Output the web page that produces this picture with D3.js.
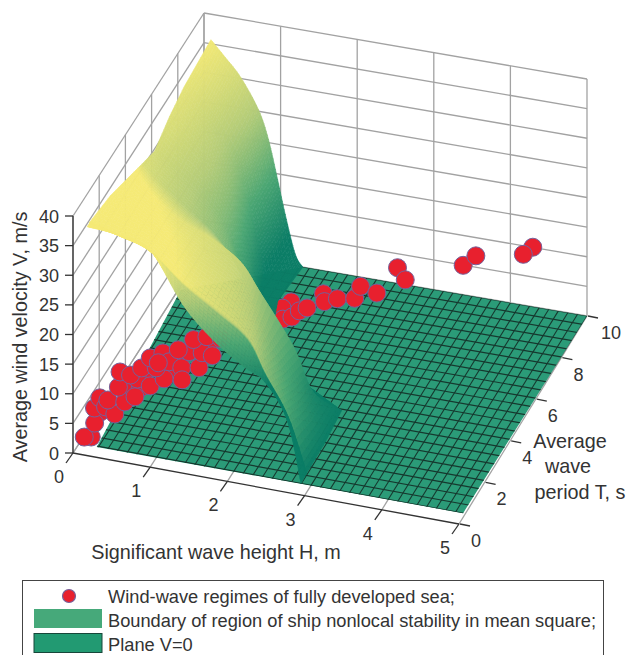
<!DOCTYPE html>
<html>
<head>
<meta charset="utf-8">
<script src="https://cdn.jsdelivr.net/npm/d3@7"></script>
<style>
  html, body { margin: 0; padding: 0; background: #fff; overflow: hidden; }
  text { font-family: "Liberation Sans", Arial, sans-serif; fill: #333; }
</style>
</head>
<body>
<div class="container"></div>
<script>
// tick labels
const hTicks = [0, 1, 2, 3, 4, 5];
const tTicks = [0, 2, 4, 6, 8, 10];
const vTicks = [0, 5, 10, 15, 20, 25, 30, 35, 40];

// wind-wave regimes (H m, T s, V m/s)
const regimeH = [0.40, 0.54, 0.88, 0.81, 0.56, 1.17, 0.19, 0.18, 0.10, 0.16, 0.09, 0.12, 0.21, 0.37, 0.23, 0.44, 0.52, 0.30, 0.25, 0.46, 0.35, 0.47, 0.66, 0.77, 0.64, 0.54, 0.65, 0.79, 0.67, 0.98, 1.03, 1.18, 0.99, 1.15, 1.29, 0.85, 0.95, 1.13, 1.31,
  1.90, 1.84, 1.93, 2.02, 2.06, 2.13, 2.26, 2.33, 2.46, 2.66, 2.64, 2.88, 2.98, 3.16, 3.82, 3.90, 4.55, 4.49];
const regimeT = [1.88, 2.33, 2.37, 3.01, 1.84, 3.46, 0.99, 0.33, 0.27, 0.71, 1.11, 1.34, 1.25, 1.01, 1.31, 1.36, 1.67, 1.70, 2.12, 2.21, 2.33, 2.47, 2.01, 2.43, 2.59, 2.72, 3.04, 2.70, 2.57, 2.54, 2.27, 2.68, 3.04, 3.10, 3.05, 3.04, 3.61, 3.58, 3.61,
  5.51, 5.17, 4.69, 4.85, 5.18, 5.37, 5.86, 5.52, 5.75, 5.90, 6.47, 6.30, 7.31, 6.84, 7.40, 7.91, 8.46, 8.08];
const regimeV = [6, 7, 8, 8, 6, 9, 4, 2, 2, 3, 4, 5, 4, 4, 5, 5, 5, 6, 7, 6, 6, 7, 6, 6, 7, 8, 8, 8, 8, 8, 7, 8, 9, 9, 9, 9, 9, 10, 10,
  11, 11, 11, 11, 11, 11, 12, 12, 12, 12, 12, 12, 13, 13, 15, 15, 16, 16];

// boundary surface, one row per wave period, far row first
const surfT = [10, 8.3, 7.2, 6, 5, 4, 2.5, 1, 0.9, 0.5];
const surfH = [
  [0.09, 0.28, 0.48, 0.71, 0.84, 0.96, 1.06, 1.19, 1.29],
  [0.03, 0.25, 0.45, 0.68, 0.82, 0.94, 1.04, 1.16, 1.25],
  [0.03, 0.30, 0.55, 0.80, 0.95, 1.08, 1.18, 1.29, 1.38],
  [0.04, 0.30, 0.60, 0.90, 1.10, 1.25, 1.40, 1.55, 1.70],
  [0.05, 0.30, 0.65, 1.00, 1.30, 1.50, 1.70, 1.90, 2.10],
  [0.08, 0.23, 0.71, 1.10, 1.49, 1.75, 2.18, 2.44, 2.81],
  [0.06, 0.35, 0.77, 1.18, 1.60, 1.92, 2.25, 2.55, 2.85],
  [0.05, 0.44, 0.83, 1.26, 1.70, 2.09, 2.32, 2.62, 2.86],
  [0.06, 0.45, 0.84, 1.27, 1.71, 2.10, 2.33, 2.63, 2.86],
  [0.10, 0.52, 0.91, 1.34, 1.73, 2.12, 2.40, 2.69, 2.87]
];
const surfV = [
  [35.7, 33.1, 30.2, 25.3, 20.6, 14.1, 8.4, 2.0, 0],
  [33.4, 30.5, 27.5, 23.0, 18.5, 13.0, 7.5, 2.0, 0],
  [32.2, 29.0, 26.0, 22.0, 17.0, 11.5, 6.5, 1.8, 0],
  [30.5, 28.0, 25.0, 21.0, 16.0, 11.0, 6.0, 1.5, 0],
  [31.8, 29.0, 25.5, 22.0, 17.0, 11.5, 6.0, 1.5, 0],
  [33.5, 31.7, 27.3, 25.2, 22.1, 17.5, 9.4, 2.3, 0],
  [35.0, 33.4, 30.5, 27.0, 24.0, 19.5, 12.0, 5.5, 0],
  [35.7, 34.4, 32.8, 28.3, 24.8, 21.2, 15.6, 9.0, 0],
  [35.8, 34.6, 33.0, 28.3, 24.6, 21.0, 15.8, 9.2, 0],
  [36.7, 36.3, 34.8, 26.5, 21.5, 18.0, 16.0, 10.3, 0]
];
// height at which each row is darkest / brightest, the folds shade differently
const surfLow = [5, 5, 5, 5, 5, 0, 0, 0, 14, 15];
const surfHigh = [36, 36, 36, 36, 36, 30, 30, 29, 33, 33];

// outline of the plane V=0
const planeH = [0.23, 4.97, 5, 1.29, 0.03];
const planeT = [0.46, 0.5, 10, 10, 8.05];
const planeHStep = 0.125;
const planeTStep = 0.396;

const legendLabels = [
  "Wind-wave regimes of fully developed sea;",
  "Boundary of region of ship nonlocal stability in mean square;",
  "Plane V=0"
];

var width = 632, height = 655;
const svg = d3.select(".container").append("svg")
  .attr("width", width)
  .attr("height", height)
  .style("display", "block");

// floor corners in pixels, everything else goes through these
const scaleH = d3.scaleLinear().domain([0, 5]).range([0, 1]);
const scaleT = d3.scaleLinear().domain([0, 10]).range([0, 1]);
const scaleV = d3.scaleLinear().domain([0, 40]).range([0, 237]);
const cornerX = [73, 459, 587, 204];
const cornerY = [453, 524, 316, 250];

function project(h, t, v) {
  const u = scaleH(h), w = scaleT(t);
  const x = (1 - u) * (1 - w) * cornerX[0] + u * (1 - w) * cornerX[1] + u * w * cornerX[2] + (1 - u) * w * cornerX[3];
  const y = (1 - u) * (1 - w) * cornerY[0] + u * (1 - w) * cornerY[1] + u * w * cornerY[2] + (1 - u) * w * cornerY[3];
  return [x, y - scaleV(v)];
}

const line = d3.line();
function seg(g, a, b, color, w) {
  g.append("path").attr("d", line([a, b])).attr("fill", "none").attr("stroke", color).attr("stroke-width", w);
}

// walls
const walls = svg.append("g");
const wallColor = "#a2a2a2";
vTicks.forEach(function (v) {
  seg(walls, project(0, 0, v), project(0, 10, v), wallColor, 1.3);
  seg(walls, project(0, 10, v), project(5, 10, v), wallColor, 1.3);
});
tTicks.forEach(function (t) {
  seg(walls, project(0, t, 0), project(0, t, 40), wallColor, 1.3);
});
hTicks.forEach(function (h) {
  seg(walls, project(h, 10, 0), project(h, 10, 40), wallColor, 1.3);
  seg(walls, project(h, 0, 0), project(h, 10, 0), wallColor, 1.3);
});

// axes and ticks
const axes = svg.append("g");
const axisColor = "#333";
const tickFont = 18;
seg(axes, project(0, 0, 0), project(0, 0, 40), axisColor, 1.3);
seg(axes, project(0, 0, 0), project(5, 0, 0), axisColor, 1.3);

vTicks.forEach(function (v) {
  const p = project(0, 0, v);
  seg(axes, [p[0] - 8, p[1]], p, axisColor, 1.3);
  axes.append("text").attr("x", p[0] - 14).attr("y", p[1] + 6.5)
    .attr("text-anchor", "end").attr("font-size", tickFont).text(v);
});
hTicks.forEach(function (h) {
  const p = project(h, 0, 0);
  seg(axes, p, [p[0] - 7, p[1] + 10], axisColor, 1.3);
  axes.append("text").attr("x", p[0] - 14).attr("y", p[1] + 30)
    .attr("text-anchor", "middle").attr("font-size", tickFont).text(h);
});
tTicks.forEach(function (t) {
  const p = project(5, t, 0);
  seg(axes, [p[0] + 1, p[1]], [p[0] + 11, p[1] + 2], axisColor, 1.3);
  axes.append("text").attr("x", p[0] + (t == 10 ? 24 : 17)).attr("y", p[1] + 23)
    .attr("text-anchor", "middle").attr("font-size", tickFont).text(t);
});

// plane V=0 with its mesh
const planePoints = planeH.map((h, i) => project(h, planeT[i], 0));
svg.append("clipPath").attr("id", "planeClip")
  .append("path").attr("d", line(planePoints) + "Z");

const plane = svg.append("g");
plane.append("path").attr("d", line(planePoints) + "Z").attr("fill", "#2b9b78");
const mesh = plane.append("g").attr("clip-path", "url(#planeClip)");
d3.range(0, 5.001, planeHStep).forEach(function (h) {
  seg(mesh, project(h, 0, 0), project(h, 10.2, 0), "#16382e", 1.05);
});
d3.range(0.5, 10.2, planeTStep).forEach(function (t) {
  seg(mesh, project(0, t, 0), project(5.1, t, 0), "#16382e", 1.2);
});

// regimes, the surface is drawn after them and hides a few
const dots = svg.append("g");
regimeH.forEach(function (h, i) {
  const p = project(h, regimeT[i], regimeV[i]);
  dots.append("circle").attr("cx", p[0]).attr("cy", p[1]).attr("r", 9)
    .attr("fill", "#e8202e").attr("stroke", "#75609a").attr("stroke-width", 1);
});

// boundary surface
const surfColor = d3.scaleLinear()
  .domain([0, 0.33, 0.66, 1])
  .range(["#0b7d66", "#4ba673", "#b4cc78", "#f5ea76"])
  .clamp(true);

function spline(a, b, c, d, s) {
  return 0.5 * (2 * b + (c - a) * s + (2 * a - 5 * b + 4 * c - d) * s * s + (3 * b - a - 3 * c + d) * s * s * s);
}

// smooth along a row, straight between rows
function sampleRow(table, r, c, s) {
  const row = table[r], n = row.length - 1;
  return spline(row[Math.max(c - 1, 0)], row[c], row[Math.min(c + 1, n)], row[Math.min(c + 2, n)], s);
}

function surfPoint(r, c, rs, cs) {
  return {
    h: d3.interpolateNumber(sampleRow(surfH, r, c, cs), sampleRow(surfH, r + 1, c, cs))(rs),
    t: d3.interpolateNumber(surfT[r], surfT[r + 1])(rs),
    v: Math.max(d3.interpolateNumber(sampleRow(surfV, r, c, cs), sampleRow(surfV, r + 1, c, cs))(rs), 0)
  };
}

const surface = svg.append("g");
const sub = 8;
for (let r = 0; r < surfT.length - 1; r++) {
  for (let i = 0; i < sub; i++) {
    const rs0 = i / sub, rs1 = (i + 1) / sub;
    const low = d3.interpolateNumber(surfLow[r], surfLow[r + 1])((rs0 + rs1) / 2);
    const high = d3.interpolateNumber(surfHigh[r], surfHigh[r + 1])((rs0 + rs1) / 2);
    for (let c = 0; c < surfH[0].length - 1; c++) {
      for (let j = 0; j < sub; j++) {
        const cs0 = j / sub, cs1 = (j + 1) / sub;
        const q = [surfPoint(r, c, rs0, cs0), surfPoint(r, c, rs0, cs1), surfPoint(r, c, rs1, cs1), surfPoint(r, c, rs1, cs0)];
        const color = surfColor((d3.mean(q, d => d.v) - low) / (high - low));
        surface.append("path")
          .attr("d", line(q.map(d => project(d.h, d.t, d.v))) + "Z")
          .attr("fill", color)
          .attr("stroke", color)
          .attr("stroke-width", 0.6);
      }
    }
  }
}

// axis titles
const titleFont = 19.8;
svg.append("text").attr("transform", "translate(27,337) rotate(-90)")
  .attr("text-anchor", "middle").attr("font-size", titleFont).text("Average wind velocity V, m/s");
svg.append("text").attr("x", 216).attr("y", 559)
  .attr("text-anchor", "middle").attr("font-size", titleFont).text("Significant wave height H, m");
svg.append("text").attr("x", 570).attr("y", 448)
  .attr("text-anchor", "middle").attr("font-size", titleFont).text("Average");
svg.append("text").attr("x", 568).attr("y", 473)
  .attr("text-anchor", "middle").attr("font-size", titleFont).text("wave");
svg.append("text").attr("x", 580).attr("y", 499)
  .attr("text-anchor", "middle").attr("font-size", titleFont).text("period T, s");

// legend
const legend = svg.append("g");
legend.append("rect").attr("x", 22.5).attr("y", 580.5).attr("width", 581).attr("height", 90)
  .attr("fill", "#fff").attr("stroke", "#444").attr("stroke-width", 1);
legend.append("circle").attr("cx", 69).attr("cy", 596).attr("r", 6.5)
  .attr("fill", "#e8202e").attr("stroke", "#75609a").attr("stroke-width", 1.2);
legend.append("rect").attr("x", 34).attr("y", 609).attr("width", 68).attr("height", 19)
  .attr("fill", "#46a97a");
legend.append("rect").attr("x", 34).attr("y", 633.5).attr("width", 68).attr("height", 19)
  .attr("fill", "#229a72").attr("stroke", "#17473a").attr("stroke-width", 1);
legendLabels.forEach(function (label, i) {
  legend.append("text").attr("x", 108).attr("y", [603, 627, 651][i])
    .attr("font-size", 18.25).text(label);
});
</script>
</body>
</html>
